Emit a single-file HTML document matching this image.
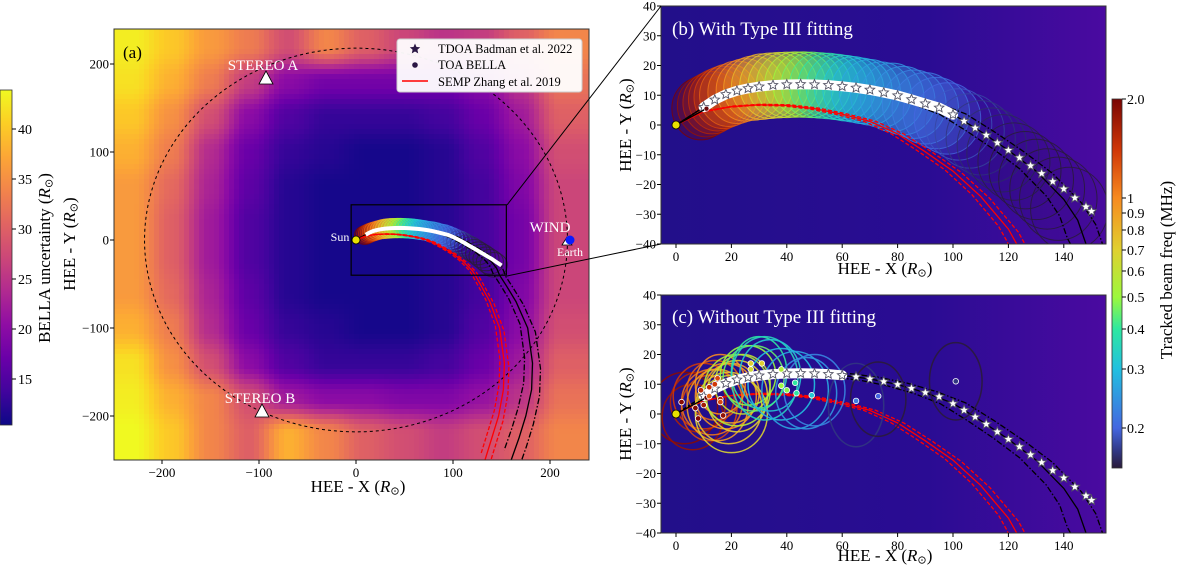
<!DOCTYPE html>
<html><head><meta charset="utf-8"><style>
html,body{margin:0;padding:0;background:#fff;width:1200px;height:576px;overflow:hidden}
svg{display:block;font-family:"Liberation Serif",serif}
</style></head><body>
<svg id="fig" xmlns="http://www.w3.org/2000/svg" width="1200" height="576" viewBox="0 0 1200 576">
<defs>
<linearGradient id="plasmaV" x1="0" y1="1" x2="0" y2="0">
<stop offset="0" stop-color="#0d0887"/><stop offset="0.1" stop-color="#41049d"/><stop offset="0.2" stop-color="#6a00a8"/><stop offset="0.3" stop-color="#8f0da4"/><stop offset="0.4" stop-color="#b12a90"/><stop offset="0.5" stop-color="#cc4778"/><stop offset="0.6" stop-color="#e16462"/><stop offset="0.7" stop-color="#f2844b"/><stop offset="0.8" stop-color="#fca636"/><stop offset="0.9" stop-color="#fcce25"/><stop offset="1" stop-color="#f0f921"/>
</linearGradient>
<linearGradient id="freqV" x1="0" y1="1" x2="0" y2="0">
<stop offset="0" stop-color="#2a1b3a"/><stop offset="0.05" stop-color="#323a8a"/><stop offset="0.108" stop-color="#4466e0"/><stop offset="0.268" stop-color="#22c0e0"/><stop offset="0.377" stop-color="#2ee8a0"/><stop offset="0.463" stop-color="#9cf83c"/><stop offset="0.591" stop-color="#e0d030"/><stop offset="0.732" stop-color="#f78a20"/><stop offset="0.86" stop-color="#d03808"/><stop offset="1" stop-color="#7a0403"/>
</linearGradient>
<linearGradient id="bgBC" x1="0" y1="0" x2="1" y2="0">
<stop offset="0" stop-color="#220f8a"/><stop offset="0.6" stop-color="#2a0c93"/><stop offset="1" stop-color="#4a0aa0"/>
</linearGradient>
<clipPath id="clipA"><rect x="114" y="29" width="475" height="431"/></clipPath>
<clipPath id="clipB"><rect x="661" y="6" width="445" height="238"/></clipPath>
<clipPath id="clipC"><rect x="661" y="295" width="445" height="238"/></clipPath>
</defs>
</svg>
<script>
// ---------- data ----------
const hmX = [-230,-190,-150,-110,-70,-30,10,50,90,130,170,210];
const hmY = [220,180,140,100,60,20,-20,-60,-100,-140,-180,-220];
const hmV = [
[43,40,36,33,28,34,30,27,25,26,30,34],
[42,38,33,26,20,18,18,18,18,20,25,32],
[40,35,28,20,15,13,13,13,14,17,22,30],
[38,33,24,17,13,12,11,11,12,15,20,28],
[36,31,23,16,12,11,11,11,12,14,19,27],
[36,30,22,15,12,11,11,11,12,14,18,27],
[36,30,22,15,12,11,11,11,12,14,18,27],
[36,31,23,16,12,11,11,11,12,14,19,27],
[38,33,24,17,13,12,11,11,12,15,20,28],
[42,35,28,20,15,13,13,13,14,17,22,30],
[43,38,34,28,22,20,20,19,19,21,25,32],
[44,40,34,30,38,34,30,28,26,28,30,34]];
const uncTicks = [15,20,25,30,35,40];
const freqTicks = [0.2,0.3,0.4,0.5,0.6,0.7,0.8,0.9,1,2.0];
const freqTickLabels = ['0.2','0.3','0.4','0.5','0.6','0.7','0.8','0.9','1','2.0'];
const freqTickPix = [428,369,329,297,271,250,230,213,198,99];

const tdoaX = [10,14,18,22,26,30,35,40,45,50,55,60,65,70,75,80,85,90,95,100,104,108,112,116,120,124,128,132,136,140,144,148,150];
const tdoaY = [6,8.5,10.3,11.5,12.3,12.9,13.4,13.6,13.7,13.6,13.4,13.0,12.5,11.8,10.9,9.9,8.6,7.2,5.8,3.5,1.3,-1,-3.4,-6,-8.5,-11,-13.7,-16.3,-19,-21.5,-24.5,-27.5,-29];

const parkX = [0,10,20,30,40,50,60,70,80,90,100,110,120,130,140,145,148,155,165,177,182,181,175,168,160];
const parkY = [0,6,11,12.9,13.6,13.6,13,11.8,9.9,7.2,3.6,-2.2,-8.5,-15.5,-25,-32,-40,-52,-70,-100,-140,-170,-200,-225,-250];
const sempX = [0,10,20,30,40,50,60,70,80,90,100,110,120,123,138,148,153,152,147,140,133];
const sempY = [0,4.5,6.2,6.8,6.6,5.5,3.6,1.2,-3,-9,-15.5,-24,-35,-40,-70,-100,-140,-170,-200,-225,-250];

const bX = [9,11,13,15,17,19,22,25,28,31,34,37,40,43,46,49,52,55,58,61,64,67,70,74,78,82,86,90,94,98,102,106,110,114,118,122,126,130,134,138,142];
const bY = [5.5,6.5,7.5,8.5,9.3,10,11,11.8,12.4,12.9,13.2,13.4,13.5,13.6,13.6,13.5,13.3,13.1,12.8,12.4,12,11.5,11,10.2,9.3,8.2,7,5.6,4,2.2,0.2,-2,-4.3,-6.8,-9.5,-12.3,-15.2,-18.3,-21.5,-24.8,-28.2];
const bR = [10.5,10.5,10.5,10.5,10.5,10.5,10.5,10.5,10.8,11,11,11,11,11,11,11,11,11,11,11,11,11,11,11,11.5,11.5,11.5,12,12,12,12,12.5,12.5,12.5,13,13,13,13.5,13.5,14,14];
const bF = [2.0,1.8,1.6,1.5,1.35,1.2,1.1,1.0,0.9,0.8,0.72,0.66,0.6,0.55,0.5,0.46,0.42,0.39,0.36,0.33,0.31,0.29,0.27,0.26,0.25,0.24,0.23,0.22,0.21,0.2,0.19,0.18,0.17,0.165,0.16,0.155,0.15,0.145,0.14,0.135,0.13];

const cX  = [3,6,8,10,12,14,13,16,18,15,20,19,22,20,24,22,26,28,30,32,34,38,43,47,50,65,73,101];
const cY  = [2,-1,4,6,2,8,4,10,6,3,7,2,6,0,10,8,13,12,14,12,13,10,8,7,8,3,5,11];
const cRX = [12,11,10,11,10,10,11,9,11,11,10,12,11,13,10,12,10,11,10,12,11,12,12,11,11,10,10,9.5];
const cRY = [12,11,10,11,11,10,11,10,11,12,10,12,12,13,10,12,10,11,12,14,12,12,13,12,12,14,12.5,13];
const cF  = [1.9,1.8,1.6,1.4,1.3,1.2,1.1,1.0,0.95,0.9,0.85,0.75,0.7,0.68,0.6,0.55,0.5,0.45,0.4,0.35,0.32,0.3,0.27,0.25,0.23,0.17,0.15,0.13];
const dotX = [27,31,27,38,38,40,43,43.5,49,65,73,101,2,8,10,12,14,15,16,17,12,9,7,16];
const dotY = [17,17,15,15,9.5,8,10.5,7,6.3,4.4,6,11,4,-1.5,3,9,10,12,5,-0.5,6,8,2,4];
const dotF = [0.7,0.7,0.65,0.55,0.5,0.48,0.4,0.4,0.32,0.22,0.2,0.17,1.9,1.9,1.7,1.5,1.4,1.3,1.6,1.8,1.2,1.5,1.9,1.3];

// ---------- helpers ----------
const NS='http://www.w3.org/2000/svg';
const svg=document.getElementById('fig');
function mk(tag,at,parent){const e=document.createElementNS(NS,tag);for(const k in at)e.setAttribute(k,at[k]);parent.appendChild(e);return e;}
const PA={x0:356,kx:0.97,y0:240,ky:0.88,l:114,r:589,t:29,b:460,ymin:-1e9};
const PB={x0:676,kx:2.77,y0:125,ky:2.975,l:661,r:1106,t:6,b:244,ymin:-42};
const PC={x0:676,kx:2.77,y0:414,ky:2.975,l:661,r:1106,t:295,b:533,ymin:-42};
const sx=(P,v)=>P.x0+v*P.kx, sy=(P,v)=>P.y0-v*P.ky;
function lerpHex(a,b,t){const pa=parseInt(a.slice(1),16),pb=parseInt(b.slice(1),16);const c=[16,8,0].map(s=>Math.round(((pa>>s)&255)*(1-t)+((pb>>s)&255)*t));return 'rgb('+c.join(',')+')';}
function cmap(stops,cols,t){t=Math.max(0,Math.min(1,t));for(let i=1;i<stops.length;i++){if(t<=stops[i]){return lerpHex(cols[i-1],cols[i],(t-stops[i-1])/(stops[i]-stops[i-1]));}}return cols[cols.length-1];}
const plS=[0,.1,.2,.3,.4,.5,.6,.7,.8,.9,1];
const plC=['#0d0887','#41049d','#6a00a8','#8f0da4','#b12a90','#cc4778','#e16462','#f2844b','#fca636','#fcce25','#f0f921'];
function plasma(v){return cmap(plS,plC,(v-10.4)/(43.9-10.4));}
const fS=[0,.05,.108,.268,.377,.463,.591,.732,.86,1];
const fC=['#2a1b3a','#323a8a','#4466e0','#22c0e0','#2ee8a0','#9cf83c','#e0d030','#f78a20','#d03808','#7a0403'];
const fLogT=[0.152,0.2,0.3,0.4,0.5,0.6,0.7,0.8,0.9,1,2.0];
const fLogP=[468,428,369,329,297,271,250,230,213,198,99];
function freqT(f){f=Math.max(0.152,Math.min(2,f));const lf=Math.log(f);for(let i=1;i<fLogT.length;i++){if(f<=fLogT[i]){const a=Math.log(fLogT[i-1]),b=Math.log(fLogT[i]);const p=fLogP[i-1]+(fLogP[i]-fLogP[i-1])*(lf-a)/(b-a);return (468-p)/369;}}return 1;}
function freqCol(f){return cmap(fS,fC,freqT(f));}
function starD(cx,cy,r){let d='';for(let i=0;i<10;i++){const rr=i%2?r*0.45:r;const a=-Math.PI/2+i*Math.PI/5;d+=(i?'L':'M')+(cx+rr*Math.cos(a)).toFixed(1)+','+(cy+rr*Math.sin(a)).toFixed(1);}return d+'Z';}
function pts(P,X,Y,s){s=s||1;return X.map((x,i)=>sx(P,x*s).toFixed(1)+','+sy(P,Y[i]*s).toFixed(1)).join(' ');}
// points of a scaled track, truncated where it leaves the panel bottom
function trackPts(P,X,Y,s){
  const out=[];
  for(let i=0;i<X.length;i++){
    const x=X[i]*s,y=Y[i]*s;
    if(y>=P.ymin){out.push([x,y]);continue;}
    const px=X[i-1]*s,py=Y[i-1]*s,t=(py-P.ymin)/(py-y);
    out.push([px+(x-px)*t,P.ymin]);break;
  }
  return out.map(p=>sx(P,p[0]).toFixed(1)+','+sy(P,p[1]).toFixed(1)).join(' ');
}
function text(parent,x,y,str,size,anchor,fill,rot){const t=mk('text',{x:x,y:y,'font-size':size,'text-anchor':anchor||'middle',fill:fill||'#000'},parent);if(rot)t.setAttribute('transform','rotate('+rot+' '+x+' '+y+')');t.textContent=str;return t;}
function rsunLabel(parent,x,y,pre,size,rot){const t=mk('text',{x:x,y:y,'font-size':size,'text-anchor':'middle'},parent);if(rot)t.setAttribute('transform','rotate('+rot+' '+x+' '+y+')');t.appendChild(document.createTextNode(pre+' ('));const it=mk('tspan',{'font-style':'italic'},t);it.textContent='R';const sb=mk('tspan',{'font-size':size*0.65,dy:size*0.15},t);sb.textContent='⊙';const cl=mk('tspan',{dy:-size*0.15},t);cl.textContent=')';return t;}

function hmSample(x,y){
  const fx=Math.max(0,Math.min(hmX.length-1.0001,(x-hmX[0])/(hmX[1]-hmX[0])));
  const fy=Math.max(0,Math.min(hmY.length-1.0001,(y-hmY[0])/(hmY[1]-hmY[0])));
  const i=Math.floor(fy),j=Math.floor(fx),ty=fy-i,tx=fx-j;
  const s=t=>t*t*(3-2*t);const a=s(tx),b=s(ty);
  return hmV[i][j]*(1-a)*(1-b)+hmV[i][j+1]*a*(1-b)+hmV[i+1][j]*(1-a)*b+hmV[i+1][j+1]*a*b;
}

// ---------- Panel A ----------
const gA=mk('g',{'clip-path':'url(#clipA)'},svg);


const hm=mk('g',{'shape-rendering':'crispEdges'},gA);


const STEP=5;
for(let py=PA.t;py<PA.b;py+=STEP){for(let px=PA.l;px<PA.r;px+=STEP){
  const xv=(px+STEP/2-PA.x0)/PA.kx, yv=(PA.y0-(py+STEP/2))/PA.ky;
  const r=mk('rect',{x:px,y:py,width:Math.min(STEP+0.6,PA.r-px),height:Math.min(STEP+0.6,PA.b-py),fill:plasma(hmSample(xv,yv))},hm);
  
  
}}
const orb=mk('ellipse',{cx:sx(PA,0),cy:sy(PA,0),rx:218*PA.kx,ry:218*PA.ky,fill:'none',stroke:'#000','stroke-width':1,'stroke-dasharray':'3,3'},gA);



function drawTracks(P,g){
  const defs=[[parkX,parkY,0.955,'#000','6,2,1.5,2','parker-spiral-lower'],[parkX,parkY,1.045,'#000','6,2,1.5,2','parker-spiral-upper'],[parkX,parkY,1,'#000','','parker-spiral'],
    [sempX,sempY,0.97,'#f00','4,2','semp-lower'],[sempX,sempY,1.03,'#f00','4,2','semp-upper'],[sempX,sempY,1,'#f00','','semp-track']];
  defs.forEach(d=>{const l=mk('polyline',{points:trackPts(P,d[0],d[1],d[2]),fill:'none',stroke:d[3],'stroke-width':1.3,'stroke-dasharray':d[4]},g);
    
    });
}
function drawBeams(P,g,fillOp){
  bX.forEach((x,i)=>{const col=freqCol(bF[i]);
    const c=mk('ellipse',{cx:sx(P,x),cy:sy(P,bY[i]),rx:bR[i]*P.kx,ry:bR[i]*P.ky,fill:col,'fill-opacity':bF[i]<0.2?0.03:fillOp,stroke:col,'stroke-opacity':0.85,'stroke-width':1},g);
    
    });
}
const gAt=mk('g',{},gA);


drawBeams(PA,gAt,0.35);
drawTracks(PA,gAt);
const bandA=mk('polyline',{points:pts(PA,tdoaX,tdoaY),fill:'none',stroke:'#fff','stroke-width':4},gAt);


const sunA=mk('circle',{cx:sx(PA,0),cy:sy(PA,0),r:4,fill:'#e8e000',stroke:'#000','stroke-width':0.8},gA);


const zr=mk('rect',{x:sx(PA,-5),y:sy(PA,40),width:160*PA.kx,height:80*PA.ky,fill:'none',stroke:'#000','stroke-width':1.2},gA);


// spacecraft
const stA=mk('path',{d:'M266,71 L259,84 L273,84 Z',fill:'#fff',stroke:'#000','stroke-width':0.8},svg);


const stB=mk('path',{d:'M262,404 L255,417 L269,417 Z',fill:'#fff',stroke:'#000','stroke-width':0.8},svg);


const erT=mk('path',{d:'M567,237 L562,245 L572,245 Z',fill:'#fff',stroke:'#000','stroke-width':0.8},svg);


const wd=mk('circle',{cx:570,cy:240,r:4.5,fill:'#0a1aff'},svg);


[[263,70,'STEREO A',15,'stereo-a-label'],[260,403,'STEREO B',15,'stereo-b-label'],[550,232,'WIND',15,'wind-label'],[570,256,'Earth',12,'earth-label'],[340,241,'Sun',12,'sun-label']].forEach(d=>{
  const t=text(svg,d[0],d[1],d[2],d[3],'middle','#fff');
  
  });
const la=text(svg,123,58,'(a)',17,'start','#000');


// legend
const lg=mk('g',{},svg);


mk('rect',{x:397,y:39,width:185,height:53,rx:3,fill:'#fff','fill-opacity':0.95,stroke:'#ccc'},lg);
const ls=mk('path',{d:starD(415,49,5.5),fill:'#2b1745'},lg);


const ld=mk('circle',{cx:415,cy:65,r:2.8,fill:'#2b1745'},lg);


const ll=mk('line',{x1:402,y1:81,x2:428,y2:81,stroke:'#f00','stroke-width':1.5},lg);


[['TDOA Badman et al. 2022',53,'legend-entry-tdoa'],['TOA BELLA',69,'legend-entry-toa'],['SEMP Zhang et al. 2019',86,'legend-entry-semp']].forEach(d=>{
  const t=text(lg,438,d[1],d[0],12.5,'start');
  
  });

function frameAxes(P,xt,yt,name){
  const g=mk('g',{},svg);
  
  
  mk('rect',{x:P.l,y:P.t,width:P.r-P.l,height:P.b-P.t,fill:'none',stroke:'#333','stroke-width':1},g);
  xt.forEach(v=>{const x=sx(P,v);mk('line',{x1:x,y1:P.b,x2:x,y2:P.b+4,stroke:'#000'},g);
    const t=text(g,x,P.b+17,String(v).replace('-','−'),13);
    
    });
  yt.forEach(v=>{const y=sy(P,v);mk('line',{x1:P.l-4,y1:y,x2:P.l,y2:y,stroke:'#000'},g);
    const t=text(g,P.l-5,y+4.5,String(v).replace('-','−'),13,'end');
    
    });
}
frameAxes(PA,[-200,-100,0,100,200],[-200,-100,0,100,200],'panel-a');
const axA=rsunLabel(svg,358,492,'HEE - X',17);


const ayA=rsunLabel(svg,75,244,'HEE - Y',17,-90);



// left colorbar
const cbL=mk('rect',{x:0,y:90,width:12,height:335,fill:'url(#plasmaV)',stroke:'#333','stroke-width':0.8},svg);


uncTicks.forEach(v=>{const y=90+(43.9-v)*10;mk('line',{x1:12,y1:y,x2:16,y2:y,stroke:'#000'},svg);
  const t=text(svg,18,y+5,String(v),14,'start');
  
  });
const cbLt=rsunLabel(svg,50,258,'BELLA uncertainty',17,-90);



// ---------- Panels B & C ----------
function bgPanel(P,clip,name){
  const g=mk('g',{'clip-path':'url(#'+clip+')'},svg);
  
  
  mk('rect',{x:P.l,y:P.t,width:P.r-P.l,height:P.b-P.t,fill:'url(#bgBC)'},g);
  return g;
}
function sunAndStars(P,g,bandTo){
  const bx=[],by=[];tdoaX.forEach((x,i)=>{if(x<=bandTo){bx.push(x);by.push(tdoaY[i]);}});
  const band=mk('polyline',{points:pts(P,bx,by),fill:'none',stroke:'#fff','stroke-width':10,'stroke-linecap':'round'},g);
  
  
  tdoaX.forEach((x,i)=>{const s=mk('path',{d:starD(sx(P,x),sy(P,tdoaY[i]),5),fill:'#fff',stroke:'#556','stroke-width':0.9},g);
    
    });
  const ln=mk('line',{x1:sx(P,0),y1:sy(P,0),x2:sx(P,11),y2:sy(P,5.5),stroke:'#000','stroke-width':1.3},g);
  
  
  const fd=mk('circle',{cx:sx(P,11),cy:sy(P,5.5),r:2.5,fill:'#6a0a0a',stroke:'#fff','stroke-width':0.6},g);
  
  
  const sn=mk('circle',{cx:sx(P,0),cy:sy(P,0),r:4,fill:'#e8e000',stroke:'#000','stroke-width':0.8},g);
  
  
}
const gB=bgPanel(PB,'clipB','panel-b');
drawBeams(PB,gB,0.28);
drawTracks(PB,gB);
sunAndStars(PB,gB,100);
const gC=bgPanel(PC,'clipC','panel-c');
drawTracks(PC,gC);
cX.forEach((x,i)=>{const col=freqCol(cF[i]);
  const e=mk('ellipse',{cx:sx(PC,x),cy:sy(PC,cY[i]),rx:cRX[i]*PC.kx,ry:cRY[i]*PC.ky,fill:'none',stroke:col,'stroke-width':1.5,'stroke-opacity':0.9},gC);
  
  });
sunAndStars(PC,gC,60);
dotX.forEach((x,i)=>{const d=mk('circle',{cx:sx(PC,x),cy:sy(PC,dotY[i]),r:2.8,fill:freqCol(dotF[i]),stroke:'#fff','stroke-width':0.8},gC);
  
  });
const xt=[0,20,40,60,80,100,120,140], yt=[-40,-30,-20,-10,0,10,20,30,40];
frameAxes(PB,xt,yt,'panel-b');
frameAxes(PC,xt,yt,'panel-c');
const tb=text(svg,672,35,'(b) With Type III fitting',19,'start','#fff');


const tc=text(svg,672,323,'(c) Without Type III fitting',19,'start','#fff');


const axB=rsunLabel(svg,885,274,'HEE - X',17);


const axC=rsunLabel(svg,885,561,'HEE - X',17);


const ayB=rsunLabel(svg,631,125,'HEE - Y',17,-90);


const ayC=rsunLabel(svg,631,414,'HEE - Y',17,-90);


// connectors
const c1=mk('line',{x1:507,y1:205,x2:661,y2:6,stroke:'#000','stroke-width':1},svg);


const c2=mk('line',{x1:507,y1:276,x2:661,y2:244,stroke:'#000','stroke-width':1},svg);


// right colorbar
const cbR=mk('rect',{x:1112,y:99,width:10,height:369,fill:'url(#freqV)',stroke:'#333','stroke-width':0.8},svg);


freqTicks.forEach((v,i)=>{const y=freqTickPix[i];mk('line',{x1:1122,y1:y,x2:1126,y2:y,stroke:'#000'},svg);
  const t=text(svg,1127,y+5,freqTickLabels[i],14,'start');
  
  });
const cbRt=text(svg,1172,270,'Tracked beam freq (MHz)',17,'middle','#000',-90);


</script>
</body></html>
